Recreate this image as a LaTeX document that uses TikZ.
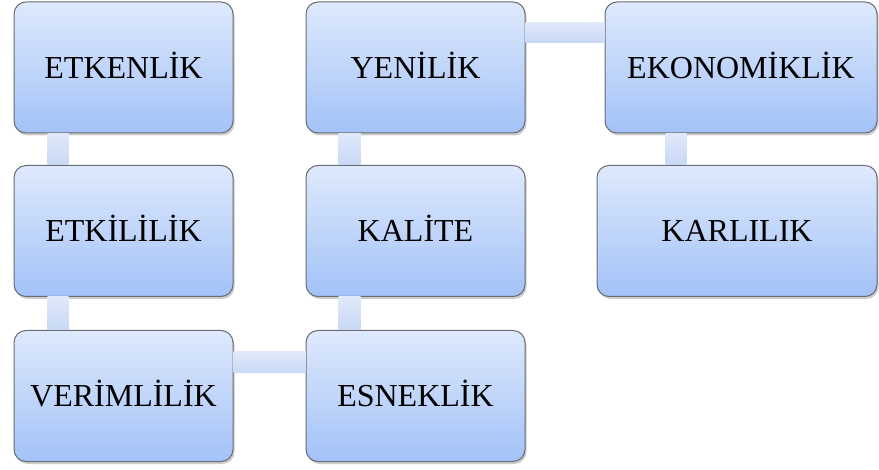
\documentclass[tikz,border=0pt]{standalone}
\usepackage{fontspec}
\setmainfont{Liberation Serif}
\usetikzlibrary{shadows}
\definecolor{boxtop}{RGB}{222,233,252}
\definecolor{boxbottom}{RGB}{163,194,248}
\definecolor{boxline}{RGB}{105,108,114}
\definecolor{linktop}{RGB}{224,233,250}
\definecolor{linkbottom}{RGB}{200,216,245}

\tikzset{
  kutu/.style={rectangle, rounded corners=12pt, draw=boxline, line width=1pt,
    top color=boxtop, bottom color=boxbottom, minimum width=219pt, minimum height=131pt,
    text height=22pt, text depth=0pt,
    font=\fontsize{32}{38}\selectfont, drop shadow={opacity=0.4, shadow xshift=1.5pt, shadow yshift=-2.5pt}},
  bag/.style={top color=linktop, bottom color=linkbottom}
}

\begin{document}
\begin{tikzpicture}[x=1pt, y=1pt]

			\useasboundingbox (0,0) rectangle (879,469);

			% birinci sutun
			\node[kutu] (etkenlik) at (123.5,401.5) {ETKENLİK};
			\node[kutu] (etkililik) at (123.5,238) {ETKİLİLİK};
			\node[kutu] (verimlilik) at (123.5,73) {VERİMLİLİK};

			% ikinci sutun
			\node[kutu] (yenilik) at (415.5,401.5) {YENİLİK};
			\node[kutu] (kalite) at (415.5,238) {KALİTE};
			\node[kutu] (esneklik) at (415.5,73) {ESNEKLİK};

			% ucuncu sutun
			\node[kutu, minimum width=272pt] (ekonomiklik) at (741,401.5) {EKONOMİKLİK};
			\node[kutu, minimum width=280pt] (karlilik) at (737,238) {KARLILIK};

			% dikey baglar
			\foreach \a/\b/\s/\e in {etkenlik/etkililik/34/55, etkililik/verimlilik/34/55,
			                        yenilik/kalite/33/55, kalite/esneklik/33/55}{
				\shade[bag] ([xshift=\s pt]\a.south west) rectangle ([xshift=\e pt]\b.north west);
			}
			\shade[bag] ([xshift=61pt]ekonomiklik.south west) rectangle ([xshift=82pt]ekonomiklik.south west |- karlilik.north);

			% yatay baglar
			\shade[bag] ([yshift=-21pt]yenilik.north east) rectangle ([yshift=-41pt]ekonomiklik.north west);
			\shade[bag] ([yshift=-22pt]verimlilik.north east) rectangle ([yshift=-43pt]esneklik.north west);

\end{tikzpicture}
\end{document}
